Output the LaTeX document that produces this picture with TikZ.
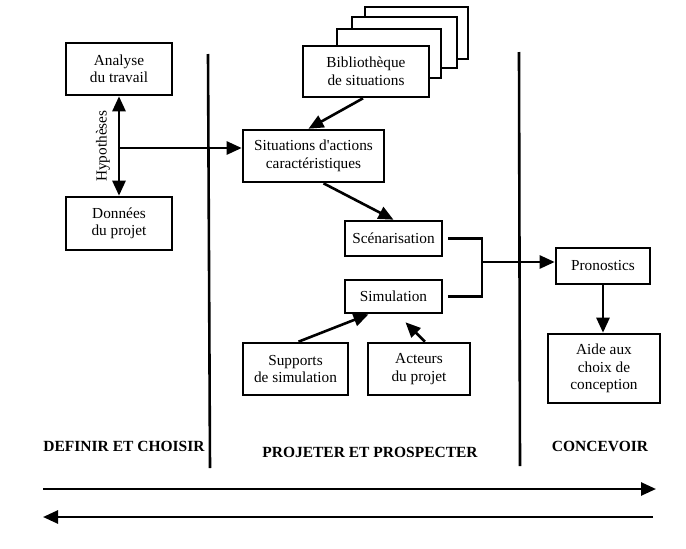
\documentclass[tikz,border=0pt]{standalone}
\usepackage{fontspec}
\setmainfont{Liberation Serif}
\usetikzlibrary{arrows.meta}

\tikzset{
  box/.style={draw, line width=2.6pt, fill=white, align=center, inner sep=0pt,
              font=\fontsize{15.3}{17.5}\selectfont},
  card/.style={draw, line width=2.6pt, fill=white},
  link/.style={line width=2.6pt},
  tip/.tip={Triangle[length=15pt,width=13pt]},
  arr/.style={link, -tip},
  dbl/.style={link, tip-tip},
  divider/.style={line width=2.6pt},
  phase/.style={font=\fontsize{15.5}{17.5}\selectfont\bfseries}
}

\begin{document}
\begin{tikzpicture}[x=1pt, y=-1pt]
  \useasboundingbox (0,0) rectangle (686,549);

  % phase dividers
  \coordinate (d1t) at (208,54);
  \coordinate (d1b) at (210,468);
  \coordinate (d2t) at (519,52);
  \coordinate (d2b) at (520,466);
  \draw[divider] (d1t) -- (d1b);
  \draw[divider] (d2t) -- (d2b);

  % stacked library cards
  \draw[card] (365,7) rectangle (468,59);
  \draw[card] (352,17) rectangle (457,68);
  \draw[card] (337,29) rectangle (441,78);

  % boxes
  \node[box, minimum width=106pt, minimum height=52pt] (ana) at (119,69) {Analyse\\du travail};
  \node[box, minimum width=106pt, minimum height=53pt] (don) at (119,223.5) {Données\\du projet};
  \node[box, minimum width=126pt, minimum height=51pt] (bib) at (366,71.5) {Bibliothèque\\de situations};
  \node[box, minimum width=141pt, minimum height=52pt] (sit) at (313.5,156) {Situations d\textquotesingle actions\\caractéristiques};
  \node[box, minimum width=97pt, minimum height=35pt] (sce) at (393.5,238.5) {Scénarisation};
  \node[box, minimum width=97pt, minimum height=33pt] (sim) at (393.5,296.5) {Simulation};
  \node[box, minimum width=105pt, minimum height=52pt] (sup) at (295.5,369) {Supports\\de simulation};
  \node[box, minimum width=102pt, minimum height=52pt] (act) at (419,369) {Acteurs\\du projet};
  \node[box, minimum width=94pt, minimum height=36pt] (pro) at (603,266) {Pronostics};
  \node[box, minimum width=112pt, minimum height=69pt] (aide) at (604,368.5) {Aide aux\\choix de\\conception};

  % hypotheses link between work analysis and project data
  \draw[dbl] (ana.south) -- (don.north);
  \node[font=\fontsize{15.3}{17.5}\selectfont, rotate=90] (hyplab) at (103,146) {Hypothèses};
  \coordinate (hyp) at (119,148);
  \draw[arr] (hyp) -- (sit.west |- hyp);

  % library feeds the characteristic situations
  \draw[arr] ([xshift=-3pt]bib.south) -- ([xshift=-5pt]sit.north);
  \draw[arr] ([xshift=10pt]sit.south) -- (sce.north);

  % scenario + simulation bracket to forecasts
  \coordinate (j) at (482,262);
  \draw[link] ([xshift=5pt]sce.east) -| (j) |- ([xshift=5pt]sim.east);
  \draw[arr] (j) -- (pro.west |- j);
  \draw[arr] (pro.south) -- (pro.south |- aide.north);

  % inputs to simulation
  \draw[arr] ([xshift=3pt]sup.north) -- ([xshift=-25pt]sim.south);
  \draw[arr] ([xshift=6pt]act.north) -- ([xshift=12pt,yshift=-8pt]sim.south);

  % phase labels
  \node[phase] (ph1) at (124,446) {DEFINIR ET CHOISIR};
  \node[phase] (ph2) at (370,452) {PROJETER ET PROSPECTER};
  \node[phase] (ph3) at (600,446) {CONCEVOIR};

  % iteration arrows
  \coordinate (fl) at (43,489);
  \coordinate (fr) at (656,489);
  \coordinate (bl) at (43,517);
  \coordinate (br) at (653,517);
  \draw[arr] (fl) -- (fr);
  \draw[arr] (br) -- (bl);
\end{tikzpicture}
\end{document}
